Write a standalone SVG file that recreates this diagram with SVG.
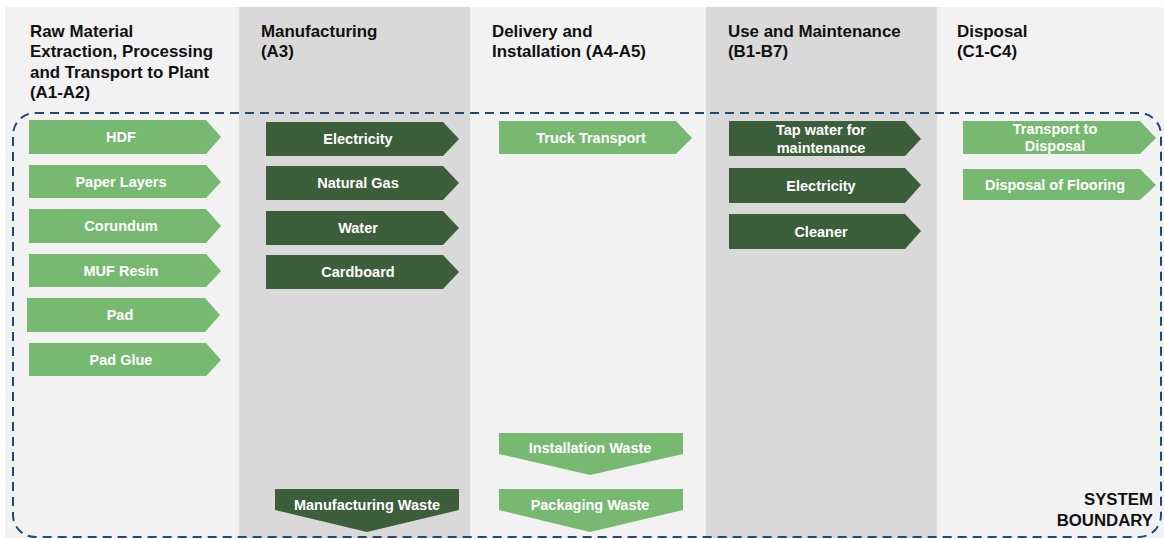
<svg xmlns="http://www.w3.org/2000/svg" width="1164" height="539" viewBox="0 0 1164 539">
<style>
.colL{fill:#f2f2f2}
.colD{fill:#d9d9d9}
.hdr{font-family:"Liberation Sans",Arial,sans-serif;font-weight:bold;font-size:16.9px;fill:#111}
.lg{fill:#78b972}
.dg{fill:#3d5e3a}
.lbl{font-family:"Liberation Sans",Arial,sans-serif;font-weight:bold;font-size:14.5px;fill:#fff;text-anchor:middle}
.bnd{fill:none;stroke:#1f4a78;stroke-width:2;stroke-dasharray:9 6}
.sys{font-family:"Liberation Sans",Arial,sans-serif;font-weight:bold;font-size:16.8px;fill:#111;text-anchor:end}
</style>
<rect width="1164" height="539" fill="#ffffff"/>
<g id="columns">
<rect class="colL" x="5" y="7" width="234" height="531"/>
<rect class="colD" x="239" y="7" width="231" height="531"/>
<rect class="colL" x="470" y="7" width="236" height="531"/>
<rect class="colD" x="706" y="7" width="231" height="531"/>
<rect class="colL" x="937" y="7" width="227" height="531"/>
</g>
<g id="headers">
<text class="hdr" x="30" y="37">Raw Material</text>
<text class="hdr" x="30" y="57">Extraction, Processing</text>
<text class="hdr" x="30" y="78">and Transport to Plant</text>
<text class="hdr" x="30" y="98">(A1-A2)</text>
<text class="hdr" x="261" y="37">Manufacturing</text>
<text class="hdr" x="261" y="57">(A3)</text>
<text class="hdr" x="492" y="37">Delivery and</text>
<text class="hdr" x="492" y="57">Installation (A4-A5)</text>
<text class="hdr" x="728" y="37">Use and Maintenance</text>
<text class="hdr" x="728" y="57">(B1-B7)</text>
<text class="hdr" x="957" y="37">Disposal</text>
<text class="hdr" x="957" y="57">(C1-C4)</text>
</g>
<g id="connectors">
<rect id="system-boundary" class="bnd" x="13" y="113" width="1148" height="424" rx="22" ry="22"/>
</g>
<g id="n-hdf"><polygon class="lg" points="29,120 206,120 221,137 206,154 29,154"/><text class="lbl" x="121" y="142">HDF</text></g>
<g id="n-paper"><polygon class="lg" points="29,165 206,165 221,182 206,198 29,198"/><text class="lbl" x="121" y="187">Paper Layers</text></g>
<g id="n-corundum"><polygon class="lg" points="29,209 206,209 221,226 206,243 29,243"/><text class="lbl" x="121" y="231">Corundum</text></g>
<g id="n-muf"><polygon class="lg" points="29,254 206,254 221,271 206,287 29,287"/><text class="lbl" x="121" y="276">MUF Resin</text></g>
<g id="n-pad"><polygon class="lg" points="27,298 205,298 220,315 205,332 27,332"/><text class="lbl" x="120" y="320">Pad</text></g>
<g id="n-padglue"><polygon class="lg" points="29,343 206,343 221,360 206,376 29,376"/><text class="lbl" x="121" y="365">Pad Glue</text></g>

<g id="n-elec3"><polygon class="dg" points="266,122 443,122 459,139 443,156 266,156"/><text class="lbl" x="358" y="144">Electricity</text></g>
<g id="n-gas"><polygon class="dg" points="266,166 443,166 459,183 443,200 266,200"/><text class="lbl" x="358" y="188">Natural Gas</text></g>
<g id="n-water"><polygon class="dg" points="266,211 443,211 459,228 443,245 266,245"/><text class="lbl" x="358" y="233">Water</text></g>
<g id="n-cardboard"><polygon class="dg" points="266,255 443,255 459,272 443,289 266,289"/><text class="lbl" x="358" y="277">Cardboard</text></g>
<g id="n-mfgwaste"><polygon class="dg" points="275,489 459,489 459,510 367,532 275,510"/><text class="lbl" x="367" y="510">Manufacturing Waste</text></g>

<g id="n-truck"><polygon class="lg" points="499,121 676,121 692,138 676,154 499,154"/><text class="lbl" x="591" y="143">Truck Transport</text></g>
<g id="n-instwaste"><polygon class="lg" points="499,433 683,433 683,454 590,475 499,454"/><text class="lbl" x="590" y="453">Installation Waste</text></g>
<g id="n-packwaste"><polygon class="lg" points="499,489 683,489 683,510 590,532 499,510"/><text class="lbl" x="590" y="510">Packaging Waste</text></g>

<g id="n-tap"><polygon class="dg" points="729,121 905,121 921,139 905,156 729,156"/><text class="lbl" x="821" y="135">Tap water for</text><text class="lbl" x="821" y="153">maintenance</text></g>
<g id="n-elec4"><polygon class="dg" points="729,168 905,168 921,185 905,203 729,203"/><text class="lbl" x="821" y="191">Electricity</text></g>
<g id="n-cleaner"><polygon class="dg" points="729,214 905,214 921,231 905,249 729,249"/><text class="lbl" x="821" y="237">Cleaner</text></g>

<g id="n-transdisp"><polygon class="lg" points="963,121 1140,121 1156,138 1140,154 963,154"/><text class="lbl" x="1055" y="134">Transport to</text><text class="lbl" x="1055" y="151">Disposal</text></g>
<g id="n-dispfloor"><polygon class="lg" points="963,169 1140,169 1156,185 1140,200 963,200"/><text class="lbl" x="1055" y="190">Disposal of Flooring</text></g>

<g id="label-system">
<text class="sys" x="1153" y="505">SYSTEM</text>
<text class="sys" x="1153" y="526">BOUNDARY</text>
</g>
</svg>
